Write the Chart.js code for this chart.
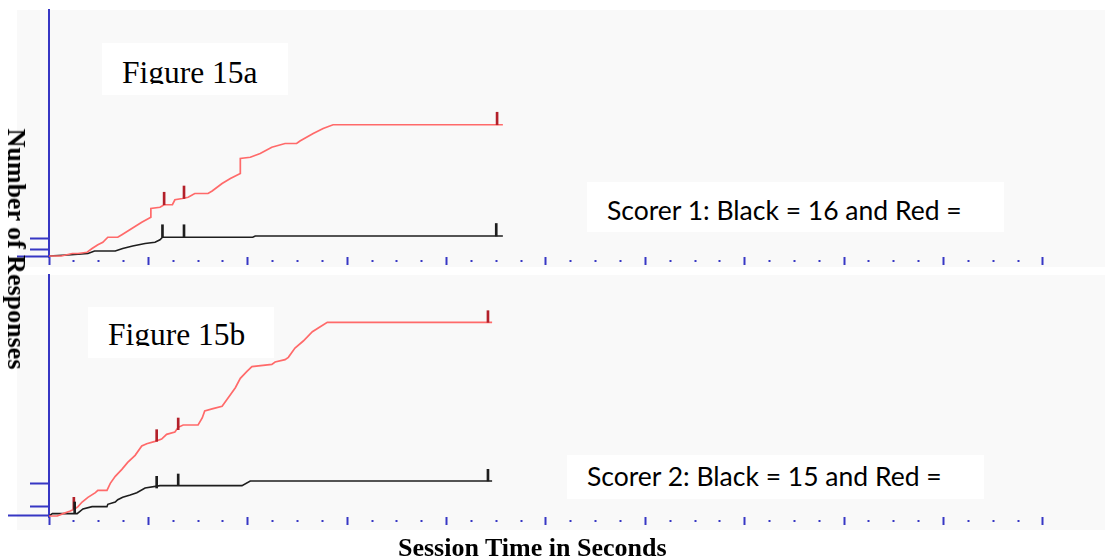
<!DOCTYPE html>
<html>
<head>
<meta charset="utf-8">
<script src="https://cdn.jsdelivr.net/npm/chart.js@4.4.1/dist/chart.umd.min.js"></script>
<style>
  body { margin: 0; background: #fff; width: 1105px; height: 560px; position: relative; overflow: hidden; }
  .panel { position: absolute; background: #f9f9f9; }
  canvas { position: absolute; left: 0; }
  .box { position: absolute; background: #fff; }
  .fig { position: absolute; font-family: "Liberation Serif", serif; font-size: 31.5px; line-height: 31.5px; overflow: hidden; white-space: nowrap; color: #000; }
  .score { position: absolute; font-family: Lato, sans-serif; font-size: 26.5px; line-height: 26.5px; white-space: nowrap; color: #000; }
  .title { position: absolute; font-family: "Liberation Serif", serif; font-weight: bold; font-size: 26px; line-height: 26px; white-space: nowrap; color: #000; }
</style>
</head>
<body>

<div class="panel" style="left:17px;top:10px;width:1088px;height:257px"></div>
<div class="panel" style="left:17px;top:275px;width:1088px;height:255px"></div>

<canvas id="recordA" width="1105" height="270" style="top:0"></canvas>
<canvas id="recordB" width="1105" height="270" style="top:265px"></canvas>

<div class="box" style="left:102px;top:43px;width:186px;height:52px"></div>
<div class="fig" style="left:122px;top:57px;height:27px">Figure 15a</div>
<div class="box" style="left:88px;top:307px;width:186px;height:51px"></div>
<div class="fig" style="left:108px;top:319px;height:27px">Figure 15b</div>

<div class="box" style="left:587px;top:182px;width:417px;height:50px"></div>
<div class="score" style="left:607px;top:197px">Scorer 1: Black = 16 and Red =</div>
<div class="box" style="left:567px;top:455px;width:417px;height:44px"></div>
<div class="score" style="left:587px;top:463px">Scorer 2: Black = 15 and Red =</div>

<div class="title" style="left:398px;top:535px">Session Time in Seconds</div>
<div class="title" style="left:16px;top:249px;transform:translate(-50%,-50%) rotate(90deg)">Number of Responses</div>

<script>
// cumulative records: [time in s, cumulative responses]
var redA = [[0,0],[15,0],[28,2],[35,2],[46,3],[52,6],[59,9],[65,11],[71,15],[83,15],[88,17],[100,22],[112,27],[123,31],[123,38],[134,39],[139,41],[149,41],[152,45],[161,46],[168,47],[176,50],[192,50],[197,52],[209,58],[219,62],[231,66],[231,78],[243,79],[255,82],[269,87],[285,90],[299,90],[303,92],[319,98],[331,102],[343,105],[548,105]];
var blackA = [[0,0],[27,1],[47,2],[55,4],[80,4],[89,6],[101,8],[116,10],[128,11],[134,13],[137,15],[246,15],[249,16],[548,16]];

var redB = [[0,0],[10,0],[17,1],[25,2],[31,3],[35,4],[40,6],[47,8],[56,10],[59,11],[70,11],[74,14],[80,17],[88,20],[95,23],[104,26],[112,30],[118,31],[128,32],[136,33],[142,35],[152,36],[156,38],[162,39],[180,39],[185,42],[188,45],[198,46],[209,47],[219,52],[225,55],[231,59],[239,62],[245,64],[269,65],[273,66],[285,67],[289,68],[297,72],[307,75],[318,79],[327,81],[336,83],[535,83]];
var blackB = [[0,0],[4,1],[34,1],[41,3],[52,4],[70,4],[71,5],[80,6],[83,7],[89,8],[98,9],[106,10],[116,12],[134,13],[233,13],[243,15],[535,15]];

// event marks on each record: [time, count where the mark sits]
var redMarksA = [[139,41],[163,46],[541,105]];
var blackMarksA = [[137,15],[163,15],[540,16]];
var redMarksB = [[30,3],[130,32],[156,37],[530,83]];
var blackMarksB = [[31,1],[130,12],[156,13],[530,15]];

// axis ticks
var timeTicks = [];
for (var t = 0; t <= 1200; t += 30) timeTicks.push(t);
var countTicksA = [0, 5, 14];
var countTicksB = [0, 4, 14];

var axisBlue = '#3737c4';

function toPoint(p) {
  return { x: p[0], y: p[1] };
}

function printRecord(id, red, black, redMarks, blackMarks, yMin, yMax, countTicks, baseTick, markSpan, xHeight) {
  var marks = [];
  redMarks.forEach(function(m) { marks.push({ x: m[0], y: [m[1], m[1] + markSpan], c: 'red' }); });
  blackMarks.forEach(function(m) { marks.push({ x: m[0], y: [m[1], m[1] + markSpan], c: 'black' }); });

  var ctx = document.getElementById(id).getContext('2d');
  new Chart(ctx, {
    type: 'line',
    data: {
      datasets: [
        {
          type: 'bar',
          data: marks,
          barThickness: 2,
          borderWidth: 0,
          backgroundColor: function(c) {
            return c.raw && c.raw.c === 'red' ? '#b3202a' : '#1e1e1e';
          }
        },
        { data: red.map(toPoint), borderColor: '#ff6a6a', borderWidth: 1.7, pointRadius: 0, tension: 0 },
        { data: black.map(toPoint), borderColor: '#1e1e1e', borderWidth: 1.6, pointRadius: 0, tension: 0 }
      ]
    },
    options: {
      responsive: false,
      animation: false,
      layout: { padding: { top: 10, left: 0, right: 0, bottom: 0 } },
      plugins: { legend: { display: false }, tooltip: { enabled: false } },
      scales: {
        x: {
          type: 'linear',
          min: 0,
          max: 1275,
          offset: false, // the bar marks would otherwise pad the time axis
          afterBuildTicks: function(s) { s.ticks = timeTicks.map(function(v) { return { value: v }; }); },
          afterFit: function(s) { s.height = xHeight; },
          ticks: { display: false },
          border: { display: false },
          grid: {
            offset: false,
            drawOnChartArea: false,
            tickLength: 8,
            tickWidth: 2,
            tickColor: axisBlue,
            // long marks every 120 s, short dots in between
            tickBorderDash: function(c) {
              if (!c.tick) return [];
              return c.tick.value % 120 === 0 ? [] : [0, 3, 2, 20];
            }
          }
        },
        y: {
          type: 'linear',
          min: yMin,
          max: yMax,
          afterBuildTicks: function(s) { s.ticks = countTicks.map(function(v) { return { value: v }; }); },
          afterFit: function(s) { s.width = 49; },
          ticks: { display: false },
          border: { color: axisBlue, width: 2 },
          grid: {
            drawOnChartArea: false,
            tickLength: baseTick,
            tickWidth: 2,
            tickColor: axisBlue,
            tickBorderDash: function(c) {
              if (!c.tick || c.tick.value === 0) return [];
              return [0, baseTick - 19, 19, 80];
            }
          }
        }
      }
    }
  });
}

printRecord('recordA', redA, blackA, redMarksA, blackMarksA, -0.8, 196.8, countTicksA, 32, 10, 13);
printRecord('recordB', redB, blackB, redMarksB, blackMarksB, -0.43, 103.3, countTicksB, 41, 5, 18);
</script>
</body>
</html>
